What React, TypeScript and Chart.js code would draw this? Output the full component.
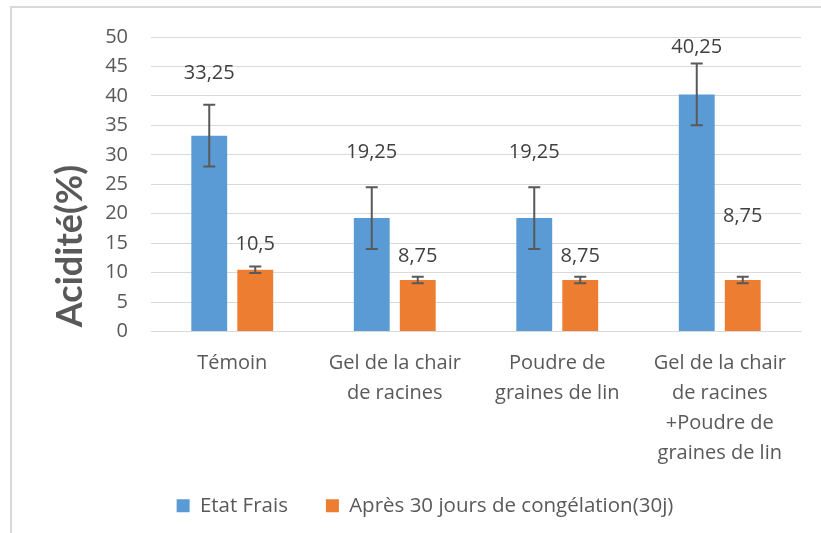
import { useEffect, useRef } from "react";
import { Chart, registerables } from "chart.js";

Chart.register(...registerables);

const categories: string[][] = [
  ["Témoin"],
  ["Gel de la chair", "de racines"],
  ["Poudre de", "graines de lin"],
  ["Gel de la chair", "de racines", "+Poudre de", "graines de lin"],
];
const seriesNames = ["Etat Frais", "Après 30 jours de congélation(30j)"];
const etatFrais = [33.25, 19.25, 19.25, 40.25];
const apres30j = [10.5, 8.75, 8.75, 8.75];
const errEtatFrais = [5.25, 5.25, 5.25, 5.25];
const errApres30j = [0.55, 0.55, 0.55, 0.55];
const yMin = 0;
const yMax = 50;
const yStep = 5;
const yTitle = "Acidité(%)";

// style: vertical offset (px) of each data label centre from its bar top
const labelLift = [
  [-62, -66, -66, -47],
  [-25, -24, -24, -64],
];

const FONT = "'Open Sans', 'Noto Sans', sans-serif";
const TEXT = "#595959";

const overlayPlugin = {
  id: "overlay",
  afterLayout(chart: any) {
    const l = chart.legend;
    if (l) {
      l.top -= 7;
      l.bottom -= 7;
    }
  },
  afterDatasetsDraw(chart: any) {
    const ctx = chart.ctx as CanvasRenderingContext2D;
    const y = chart.scales.y;
    const errs = [errEtatFrais, errApres30j];
    chart.data.datasets.forEach((ds: any, di: number) => {
      const meta = chart.getDatasetMeta(di);
      meta.data.forEach((bar: any, i: number) => {
        const v = ds.data[i] as number;
        const e = errs[di][i];
        const top = y.getPixelForValue(v + e);
        const bot = y.getPixelForValue(v - e);
        ctx.save();
        ctx.strokeStyle = "#595959";
        ctx.lineWidth = 2;
        ctx.beginPath();
        ctx.moveTo(bar.x, top);
        ctx.lineTo(bar.x, bot);
        ctx.moveTo(bar.x - 6, top);
        ctx.lineTo(bar.x + 6, top);
        ctx.moveTo(bar.x - 6, bot);
        ctx.lineTo(bar.x + 6, bot);
        ctx.stroke();
        ctx.fillStyle = "#404040";
        ctx.font = `20px ${FONT}`;
        ctx.textAlign = "center";
        ctx.textBaseline = "middle";
        ctx.fillText(String(v).replace(".", ","), bar.x, bar.y + labelLift[di][i]);
        ctx.restore();
      });
    });
  },
  afterDraw(chart: any) {
    const ctx = chart.ctx as CanvasRenderingContext2D;
    ctx.save();
    ctx.translate(82, 246);
    ctx.rotate(-Math.PI / 2);
    ctx.fillStyle = TEXT;
    ctx.font = `bold 36px Lato, ${FONT}`;
    ctx.textAlign = "center";
    ctx.textBaseline = "alphabetic";
    ctx.fillText(yTitle, 0, 0);
    ctx.restore();
  },
};

export default function App() {
  const ref = useRef<HTMLCanvasElement | null>(null);
  useEffect(() => {
    if (!ref.current) return;
    const chart = new Chart(ref.current, {
      type: "bar",
      data: {
        labels: categories,
        datasets: [
          {
            label: seriesNames[0],
            data: etatFrais,
            backgroundColor: "#5b9bd5",
            categoryPercentage: 0.566,
            barPercentage: 0.78,
          },
          {
            label: seriesNames[1],
            data: apres30j,
            backgroundColor: "#ed7d31",
            categoryPercentage: 0.566,
            barPercentage: 0.78,
          },
        ],
      },
      options: {
        animation: false,
        responsive: true,
        maintainAspectRatio: false,
        layout: { padding: { left: 49, right: 20, top: 37, bottom: 0 } },
        scales: {
          x: {
            grid: { display: false },
            border: { display: true, color: "#d9d9d9" },
            ticks: {
              color: TEXT,
              font: { family: FONT, size: 20, lineHeight: 1.5 },
              padding: 9,
              maxRotation: 0,
              autoSkip: false,
            },
            afterFit(s: any) {
              s.height = 133;
            },
          },
          y: {
            min: yMin,
            max: yMax,
            ticks: {
              stepSize: yStep,
              color: TEXT,
              font: { family: FONT, size: 20 },
              padding: 23,
            },
            grid: { color: "#d9d9d9", lineWidth: 1, drawTicks: false },
            border: { display: false },
            afterFit(s: any) {
              s.width = 102;
            },
          },
        },
        plugins: {
          legend: {
            position: "bottom",
            labels: {
              boxWidth: 13,
              boxHeight: 13,
              padding: 38,
              color: TEXT,
              font: { family: FONT, size: 20.5 },
            },
          },
          tooltip: { enabled: false },
        },
      },
      plugins: [overlayPlugin],
    });
    return () => chart.destroy();
  }, []);

  return (
    <div style={{ position: "absolute", left: 0, top: 0, width: 821, height: 533, background: "#fff", overflow: "hidden" }}>
      <div
        style={{
          position: "absolute",
          left: 10,
          top: 6,
          right: -10,
          bottom: -10,
          borderLeft: "2px solid #d9d9d9",
          borderTop: "2px solid #d9d9d9",
        }}
      />
      <canvas ref={ref} style={{ position: "absolute", left: 0, top: 0 }} />
    </div>
  );
}
